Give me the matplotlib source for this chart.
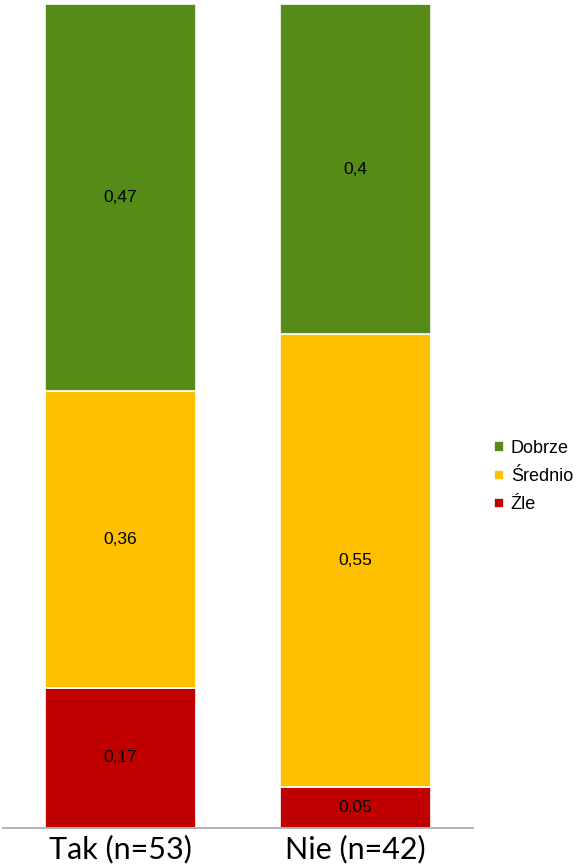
import matplotlib.pyplot as plt
import numpy as np

# data
groups = ["Tak (n=53)", "Nie (n=42)"]
zle = [0.17, 0.05]
srednio = [0.36, 0.55]
dobrze = [0.47, 0.4]
labels_zle = ["0,17", "0,05"]
labels_srednio = ["0,36", "0,55"]
labels_dobrze = ["0,47", "0,4"]

fig = plt.figure(figsize=(5.77, 8.65), dpi=100)
ax = fig.add_axes([0.005, 0.043, 0.815, 0.952])

x = np.arange(len(groups))
w = 0.64
b1 = ax.bar(x, zle, w, color="#C00000", edgecolor="white", linewidth=1.2, label="Źle")
b2 = ax.bar(x, srednio, w, bottom=zle, color="#FFC000", edgecolor="white", linewidth=1.2, label="Średnio")
bottom3 = np.array(zle) + np.array(srednio)
b3 = ax.bar(x, dobrze, w, bottom=bottom3, color="#558B16", edgecolor="white", linewidth=1.2, label="Dobrze")

lab_font = {"family": "Liberation Sans", "size": 12.5}
ax.bar_label(b1, labels=labels_zle, label_type="center", **lab_font)
ax.bar_label(b2, labels=labels_srednio, label_type="center", **lab_font)
ax.bar_label(b3, labels=labels_dobrze, label_type="center", **lab_font)

ax.set_xlim(-0.5, 1.5)
ax.set_ylim(0, 1)
ax.set_xticks(x)
ax.set_xticklabels(groups, fontsize=22, family="Lato")
ax.tick_params(axis="x", length=0, pad=5)
ax.set_yticks([])
for s in ["left", "right", "top"]:
    ax.spines[s].set_visible(False)
ax.spines["bottom"].set_color("#A6A6A6")
ax.spines["bottom"].set_linewidth(1.2)

h, l = ax.get_legend_handles_labels()
fig.legend(h[::-1], l[::-1], loc="center left", bbox_to_anchor=(0.857, 0.449),
           frameon=False, prop={"family": "Liberation Sans", "size": 13},
           handlelength=0.5, handleheight=0.5, handletextpad=0.4, labelspacing=0.62,
           borderpad=0, borderaxespad=0)

fig.savefig("out.png", dpi=100)
